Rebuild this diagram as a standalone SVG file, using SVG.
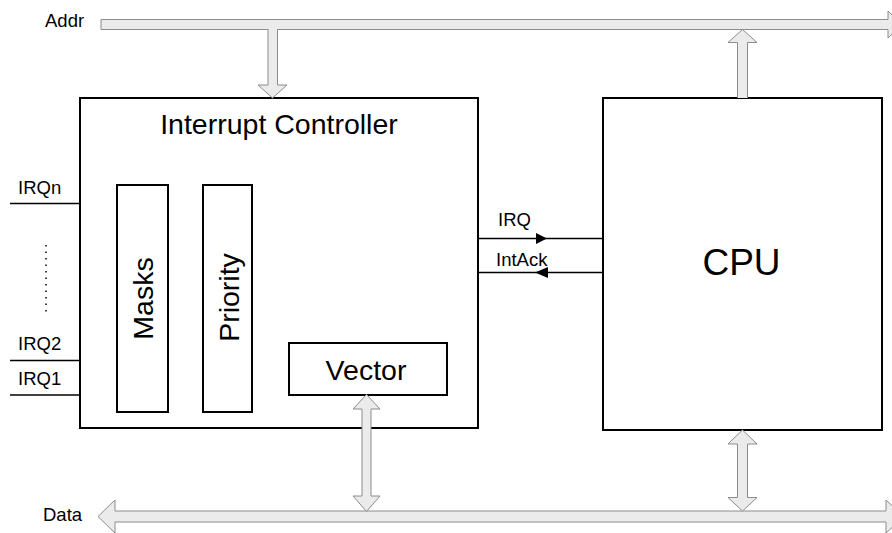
<svg xmlns="http://www.w3.org/2000/svg" width="892" height="533" viewBox="0 0 892 533">
<style>
text{font-family:"Liberation Sans",Arial,sans-serif;fill:#000}
.box{fill:#fff;stroke:#000;stroke-width:2}
.bus{fill:#ebebeb;stroke:#8c8c8c;stroke-width:1}
.wire{stroke:#000;stroke-width:1.5;fill:none}
.lbl{font-size:18.5px}
.big{font-size:28.5px}
</style>
<rect width="892" height="533" fill="#fff"/>

<g id="addr-bus">
<path class="bus" d="M101,19.5 H888 V11 L902,24.5 L888,38 V29.5 H101 Z"/>
<text class="lbl" x="45" y="27">Addr</text>
</g>

<g id="data-bus">
<path class="bus" d="M98,516.5 L115,500 V511 H886 V500 L904,516.5 L886,533 V522 H115 V533 Z"/>
<text class="lbl" x="43" y="521">Data</text>
</g>

<g id="interrupt-controller">
<rect class="box" x="80" y="98" width="398" height="330"/>
<text class="big" x="279" y="133.5" text-anchor="middle">Interrupt Controller</text>
</g>

<g id="masks">
<rect class="box" x="117" y="185" width="51" height="227"/>
<text class="big" transform="translate(153,298.5) rotate(-90)" text-anchor="middle">Masks</text>
</g>

<g id="priority">
<rect class="box" x="203" y="185" width="49" height="227"/>
<text class="big" transform="translate(238.5,297.5) rotate(-90)" text-anchor="middle">Priority</text>
</g>

<g id="vector">
<rect class="box" x="289" y="343" width="158" height="52"/>
<text class="big" x="366" y="379.5" text-anchor="middle">Vector</text>
</g>

<g id="cpu">
<rect class="box" x="603" y="98" width="279" height="332"/>
<text x="741.5" y="274.5" font-size="37" text-anchor="middle">CPU</text>
</g>

<g id="irq-inputs">
<line class="wire" x1="10" y1="203.5" x2="80" y2="203.5"/>
<line class="wire" x1="10" y1="360.5" x2="80" y2="360.5"/>
<line class="wire" x1="10" y1="395" x2="80" y2="395"/>
<text class="lbl" x="18" y="193.5">IRQn</text>
<text class="lbl" x="18" y="350">IRQ2</text>
<text class="lbl" x="18" y="385">IRQ1</text>
<line x1="46" y1="245" x2="46" y2="313" stroke="#000" stroke-width="1.5" stroke-dasharray="1.5,5"/>
</g>

<g id="connectors">
<path class="bus" d="M268,29 V85 H258 L272.5,98 L287,85 H277.5 V29"/>
<path class="bus" d="M737.5,98 V42.5 H728 L742.5,29.5 L757,42.5 H747.5 V98"/>
<path class="bus" d="M366.5,394.5 L380,409 H371 V496 H380 L366.5,511.5 L353,496 H362 V409 H353 Z"/>
<path class="bus" d="M742.5,430 L757,444 H747.5 V497.5 H757 L742.5,511 L728,497.5 H737.5 V444 H728 Z"/>
<line class="wire" x1="478" y1="238.5" x2="603" y2="238.5"/>
<path d="M536,233 L547,238.5 L536,244 Z" fill="#000"/>
<line class="wire" x1="478" y1="272.5" x2="603" y2="272.5"/>
<path d="M548,267 L535,272.5 L548,278 Z" fill="#000"/>
<text class="lbl" x="498" y="226">IRQ</text>
<text class="lbl" x="496" y="265.5">IntAck</text>
</g>
</svg>
